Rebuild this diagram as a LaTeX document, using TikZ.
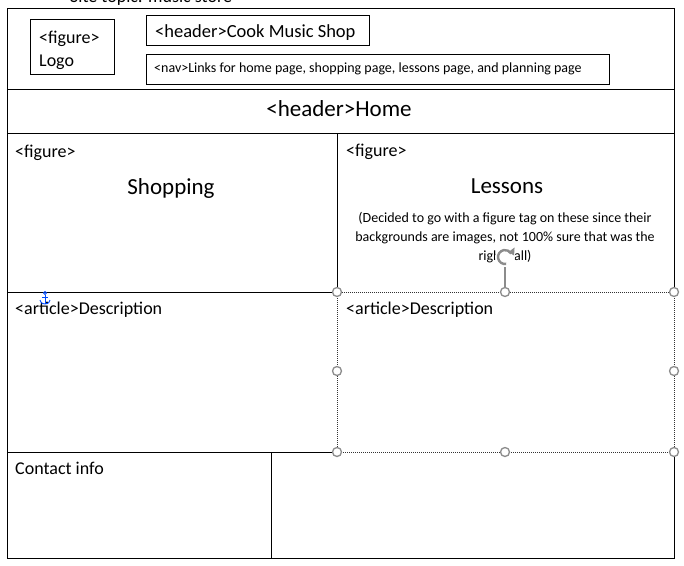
\documentclass[tikz,border=0pt]{standalone}
\usepackage{fontspec}
\setmainfont{Carlito}
\usetikzlibrary{arrows.meta}
\tikzset{
  x=1pt,y=-1pt,
  box/.style={draw=black,line width=1pt},
  sel/.style={draw=black!80,line width=0.8pt,dash pattern=on 1pt off 1pt},
  handle/.style={circle,draw=black!45,line width=1.3pt,fill=white,minimum size=9pt,inner sep=0pt},
  lbl/.style={anchor=base west,inner sep=0pt,font=\fontsize{18}{21}\selectfont},
  big/.style={anchor=base,inner sep=0pt,font=\fontsize{23}{27}\selectfont},
}
\begin{document}
\begin{tikzpicture}
\useasboundingbox (0,0) rectangle (684,565);
\clip (0,0) rectangle (684,565);
\fill[white] (0,0) rectangle (684,565);
% title (cut off at top)
\node[lbl,anchor=base west] (title) at (70,2) {Site topic: music store};
% outer frame lines
\draw[box] (7,292) -- (7,8) -- (674,8) -- (674,292);
\draw[box] (7,292) -- (7,558) -- (674,558) -- (674,452);
\draw[box] (7,89) -- (674,89);
\draw[box] (7,133) -- (674,133);
\draw[box] (337,133) -- (337,292);
\draw[box] (7,292) -- (337,292);
\draw[box] (7,452) -- (337,452);
\draw[box] (271,452) -- (271,558);
% top boxes
\draw[box] (30,19) rectangle (114,74);
\node[lbl] (fig0) at (39,43) {<figure>};
\node[lbl] (logo) at (39,66) {Logo};
\draw[box] (146,15) rectangle (369,45);
\node[lbl,font=\fontsize{18.5}{21}\selectfont] (hdr) at (155,37) {<header>Cook Music Shop};
\draw[box] (146,54) rectangle (609,84);
\node[lbl,font=\fontsize{14}{16}\selectfont] (nav) at (154,72) {<nav>Links for home page, shopping page, lessons page, and planning page};
% home
\node[big] (home) at (339,116) {<header>Home};
% figures
\node[lbl] (fig1) at (15,157) {<figure>};
\node[big] (shop) at (171,194) {Shopping};
\node[lbl] (fig2) at (346,156) {<figure>};
\node[big] (less) at (507,193) {Lessons};
\node[align=center,inner sep=0pt,font=\fontsize{14}{19}\selectfont,anchor=north] (note) at (505,212)
  {(Decided to go with a figure tag on these since their\\backgrounds are images, not 100\% sure that was the\\right call)};
% articles
\node[lbl] (art1) at (15,314) {<article>Description};
\node[lbl] (art2) at (346,314) {<article>Description};
\node[lbl] (contact) at (15,474) {Contact info};
% selection rectangle
\draw[sel] (337,292) rectangle (674,452);
% handles
\foreach \n/\p in {h1/{(337,292)},h2/{(505,292)},h3/{(674,292)},h4/{(337,371)},h5/{(674,371)},h6/{(337,452)},h7/{(505,452)},h8/{(674,452)}}
  \node[handle] (\n) at \p {};
% rotation handle
\coordinate (rot) at (505,257);
\draw[black!45,line width=1.2pt] (h2.north) -- ([yshift=-9pt]rot);
\fill[white] (rot) circle (10);
\draw[black!45,line width=2.4pt] (rot) ++(80:7) arc (80:330:7);
\fill[black!45] (rot) ++(-30:7) ++(-2.5,-1.5) -- ++(6,-4.5) -- ++(-0.5,8) -- cycle;
% anchor icon
\begin{scope}[shift={(45,298)}]
  \draw[blue!70!cyan,line width=0.9pt] (0,-5) circle (1.6);
  \draw[blue!70!cyan,line width=0.9pt] (0,-3.4) -- (0,6);
  \draw[blue!70!cyan,line width=0.9pt] (-3,-1) -- (3,-1);
  \draw[blue!70!cyan,line width=0.9pt] (-5,2) .. controls (-4,6) and (-1,6) .. (0,6) .. controls (1,6) and (4,6) .. (5,2);
\end{scope}
\end{tikzpicture}
\end{document}
